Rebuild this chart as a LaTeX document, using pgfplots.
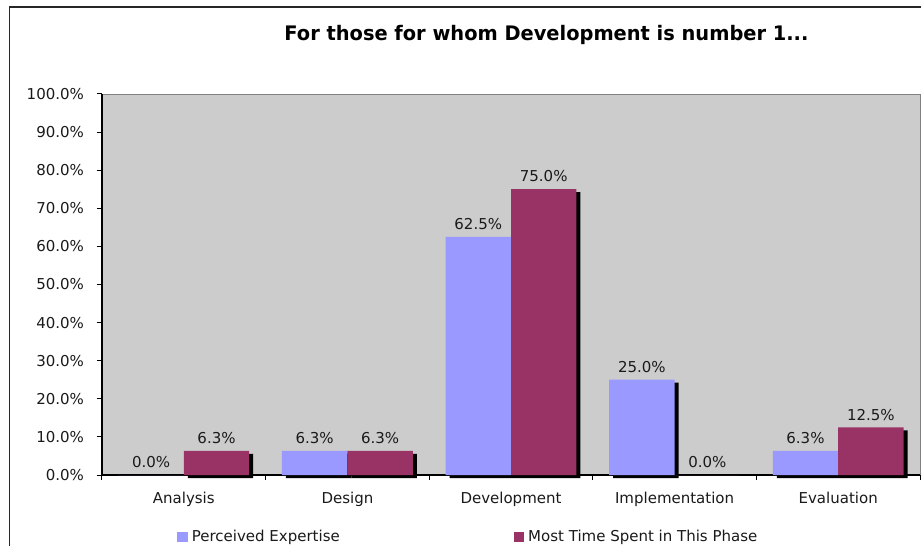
\documentclass[border=0pt]{standalone}
\usepackage{fontspec}
\setmainfont{DejaVu Sans}
\newfontfamily\titlefont[FakeStretch=0.97]{DejaVu Sans}
\usepackage{pgfplots}
\pgfplotsset{compat=1.18}
\definecolor{bgray}{HTML}{CCCCCC}
\definecolor{cblue}{HTML}{9999FF}
\definecolor{cmaroon}{HTML}{993366}
\definecolor{txt}{HTML}{1A1A1A}
\begin{document}
\begin{tikzpicture}
\useasboundingbox (0,0) rectangle (460.5pt,273pt);
\fill[white] (0,0) rectangle (460.5pt,273pt);
\draw[line width=0.9pt, black!85] (4.75pt,-5pt) -- (4.75pt,269.5pt) -- (470pt,269.5pt);
\node[text=black, font=\titlefont\bfseries\fontsize{10}{12}\selectfont] at (273.25pt,255.5pt) {For those for whom Development is number 1...};
\begin{axis}[
  at={(51pt,35.5pt)}, anchor=south west,
  scale only axis, width=409pt, height=190.5pt,
  xmin=-0.5, xmax=4.5, ymin=0, ymax=100,
  clip=false,
  axis background/.style={fill=bgray, draw=black!50},
  axis x line*=bottom, axis y line*=left,
  axis line style={black, line width=0.6pt},
  tick align=outside,
  xtick={0,1,2,3,4},
  xticklabels={Analysis,Design,Development,Implementation,Evaluation},
  major x tick style={draw=none},
  minor xtick={-0.5,0.5,1.5,2.5,3.5,4.5},
  minor x tick style={black, line width=0.5pt},
  minor tick length=2.5pt,
  ytick={0,10,...,100},
  major tick length=2.5pt,
  y tick style={black, line width=0.5pt},
  yticklabel={\pgfmathprintnumber[fixed,fixed zerofill,precision=1]{\tick}\%},
  /pgf/number format/assume math mode=true,
  tick label style={font=\fontsize{7.5}{9}\selectfont, text=txt},
  yticklabel style={xshift=-3pt},
  xticklabel style={yshift=-2.5pt},
  every node near coord/.append style={font=\fontsize{7.5}{9}\selectfont, text=txt},
  legend columns=2,
  legend style={at={(0.0844,-0.1627)}, anchor=west, draw=none, fill=none,
    font=\fontsize{7.5}{9}\selectfont, text=txt,
    /tikz/every even column/.append style={column sep=85pt}},
  legend image code/.code={\fill[#1] (0pt,-2.5pt) rectangle (5.2pt,2.5pt);},
]
% shadows
\addplot[ybar, bar width=32.72pt, bar shift=-16.36pt, fill=black, draw=none, xshift=2pt, yshift=-1.5pt, forget plot]
  coordinates {(1,6.3) (2,62.5) (3,25) (4,6.3)};
\addplot[ybar, bar width=32.72pt, bar shift=16.36pt, fill=black, draw=none, xshift=2pt, yshift=-1.5pt, forget plot]
  coordinates {(0,6.3) (1,6.3) (2,75) (4,12.5)};
% bars
\addplot[ybar, bar width=32.72pt, bar shift=-16.36pt, fill=cblue, draw=none,
  every node near coord/.append style={xshift=-16.36pt},
  nodes near coords={\pgfmathprintnumber[fixed,fixed zerofill,precision=1]{\pgfplotspointmeta}\%}]
  coordinates {(0,0) (1,6.3) (2,62.5) (3,25) (4,6.3)};
\addlegendentry{Perceived Expertise}
\addplot[ybar, bar width=32.72pt, bar shift=16.36pt, fill=cmaroon, draw=none,
  every node near coord/.append style={xshift=16.36pt},
  nodes near coords={\pgfmathprintnumber[fixed,fixed zerofill,precision=1]{\pgfplotspointmeta}\%}]
  coordinates {(0,6.3) (1,6.3) (2,75) (3,0) (4,12.5)};
\addlegendentry{Most Time Spent in This Phase}
\end{axis}
\end{tikzpicture}
\end{document}
